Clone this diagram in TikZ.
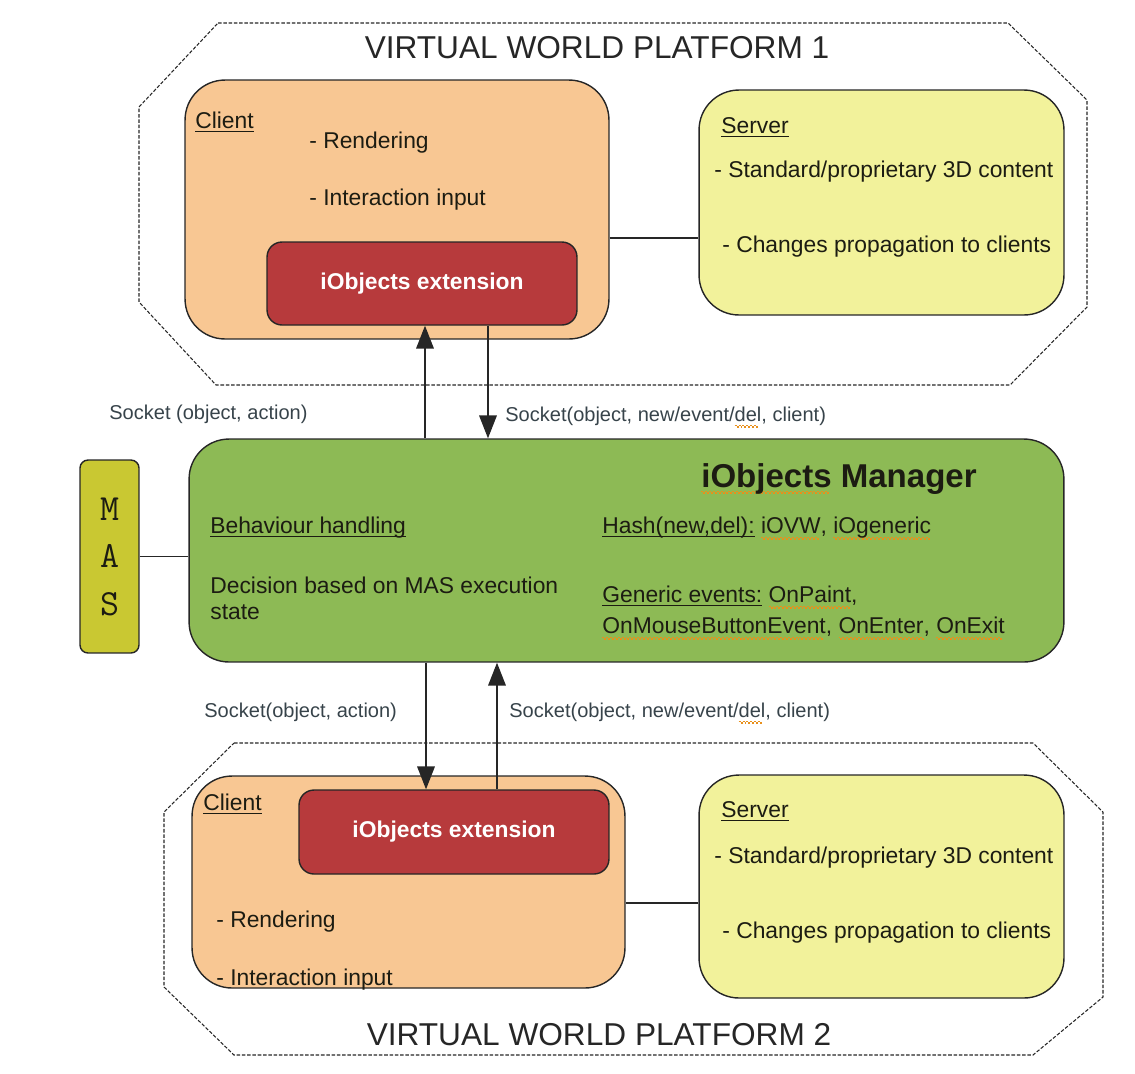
\documentclass[tikz,border=0pt]{standalone}
\usepackage{fontspec}
\setmainfont{Liberation Sans}
\usetikzlibrary{arrows.meta}

\definecolor{clientfill}{HTML}{F8C793}
\definecolor{extfill}{HTML}{B73A3C}
\definecolor{serverfill}{HTML}{F2F29B}
\definecolor{manfill}{HTML}{8DBA55}
\definecolor{masfill}{HTML}{C9C832}
\definecolor{textdark}{HTML}{1C1C12}
\definecolor{socktext}{HTML}{37434A}
\definecolor{spellline}{HTML}{E8901C}

% solid and wavy (spell-check) underlines
\newcommand\uln[1]{\setbox0\hbox{#1}\rlap{\rule[-2.2pt]{\wd0}{0.6pt}}\box0\relax}
\newcommand\spell[1]{\setbox0\hbox{#1}\rlap{\textcolor{spellline}{\hbox to\wd0{\leaders\hbox{\rule[-3.0pt]{1.1pt}{0.85pt}\rule[-3.7pt]{1.1pt}{0.85pt}}\hfill}}}\box0\relax}

\begin{document}
\begin{tikzpicture}[x=0.02cm,y=-0.02cm]
\tikzstyle{platform} = [draw=black!85, dash pattern=on 2pt off 1pt, line width=0.6pt]
\tikzstyle{box} = [draw=black!85, line width=0.8pt, inner sep=0pt]
\tikzstyle{clientbox} = [box, fill=clientfill, rounded corners=0.8cm]
\tikzstyle{serverbox} = [box, fill=serverfill, rounded corners=0.8cm]
\tikzstyle{extbox} = [box, fill=extfill, rounded corners=0.3cm, text=white, font=\bfseries\fontsize{13}{15}\selectfont]
\tikzstyle{manbox} = [box, fill=manfill, rounded corners=0.8cm]
\tikzstyle{masbox} = [box, fill=masfill, rounded corners=0.16cm, align=center, text=textdark, font=\ttfamily\fontsize{21}{27}\selectfont]
\tikzstyle{txt} = [anchor=base west, inner sep=0pt, text=textdark, font=\fontsize{13}{15}\selectfont]
\tikzstyle{socktxt} = [anchor=base west, inner sep=0pt, text=socktext, font=\fontsize{11.4}{13}\selectfont]
\tikzstyle{title} = [anchor=base, inner sep=0pt, text=black!85, font=\fontsize{18}{21}\selectfont]
\tikzstyle{link} = [draw=black!85, line width=0.8pt]
\tikzstyle{sockarrow} = [link, -{Triangle[length=13pt,width=10pt]}]
\useasboundingbox (0,0) rectangle (1135,1073);

% platform 1
\draw[platform] (218,23) -- (1008,23) -- (1087,100) -- (1087,307) -- (1010,385) -- (216,385) -- (139,302) -- (139,107) -- cycle;
\node[title] (vw1) at (597,58) {VIRTUAL WORLD PLATFORM 1};
\node[clientbox, minimum width=8.48cm, minimum height=5.18cm] (cl1) at (397,209.5) {};
\node[extbox, minimum width=6.2cm, minimum height=1.66cm] (ext1) at (422,283.5) {iObjects extension};
\node[serverbox, minimum width=7.3cm, minimum height=4.5cm] (srv1) at (881.5,202.5) {};
\node[txt] (cl1t) at (195,128) {\uln{Client}};
\node[txt] (cl1a) at (309,148) {- Rendering};
\node[txt] (cl1b) at (309,205) {- Interaction input};
\node[txt] (srv1t) at (721,133) {\uln{Server}};
\node[txt] (srv1a) at (714,177) {- Standard/proprietary 3D content};
\node[txt] (srv1b) at (722,252) {- Changes propagation to clients};
\coordinate (cs1) at ([yshift=-0.71cm]srv1.west);
\draw[link] (cs1 -| cl1.east) -- (cs1);

% platform 2
\draw[platform] (234,743) -- (1033,743) -- (1103,812) -- (1103,997) -- (1033,1055) -- (234,1055) -- (164,987) -- (164,812) -- cycle;
\node[title] (vw2) at (599,1045) {VIRTUAL WORLD PLATFORM 2};
\node[clientbox, minimum width=8.66cm, minimum height=4.24cm] (cl2) at (408.5,882) {};
\node[extbox, minimum width=6.2cm, minimum height=1.68cm] (ext2) at (454,832) {iObjects extension};
\node[serverbox, minimum width=7.3cm, minimum height=4.46cm] (srv2) at (881.5,886.5) {};
\node[txt] (cl2t) at (203,810) {\uln{Client}};
\node[txt] (cl2a) at (216,927) {- Rendering};
\node[txt] (cl2b) at (216,985) {- Interaction input};
\node[txt] (srv2t) at (721,817) {\uln{Server}};
\node[txt] (srv2a) at (714,863) {- Standard/proprietary 3D content};
\node[txt] (srv2b) at (722,938) {- Changes propagation to clients};
\coordinate (cs2) at ([yshift=-0.33cm]srv2.west);
\draw[link] (cs2 -| cl2.east) -- (cs2);

% manager and MAS
\node[manbox, minimum width=17.5cm, minimum height=4.46cm] (man) at (626.5,550.5) {};
\node[masbox, minimum width=1.18cm, minimum height=3.86cm] (mas) at (109.5,556.5) {M\\A\\S};
\draw[link] (mas.east) -- (mas.east -| man.west);
\node[anchor=base west, inner sep=0pt, text=textdark, font=\bfseries\fontsize{18.8}{22}\selectfont] (mant) at (701,487) {\spell{iObjects} Manager};
\node[txt] (beh) at (210,533) {\uln{Behaviour handling}};
\node[txt] (dec1) at (210,593) {Decision based on MAS execution};
\node[txt] (dec2) at (210,619) {state};
\node[txt] (hash) at (602,533) {\uln{Hash(new,del):} \spell{iOVW}, \spell{iOgeneric}};
\node[txt] (gen1) at (602,602) {\uln{Generic events:} \spell{OnPaint},};
\node[txt] (gen2) at (602,633) {\spell{OnMouseButtonEvent}, \spell{OnEnter}, \spell{OnExit}};

% sockets
\node[socktxt] (sk1) at (109,419) {Socket (object, action)};
\node[socktxt] (sk2) at (505,421) {Socket(object, new/event/\spell{del}, client)};
\node[socktxt] (sk3) at (204,717) {Socket(object, action)};
\node[socktxt] (sk4) at (509,717) {Socket(object, new/event/\spell{del}, client)};
\coordinate (up1) at ([xshift=0.06cm]ext1.south);
\coordinate (dn1) at ([xshift=1.32cm]ext1.south);
\coordinate (dn2) at ([xshift=-0.56cm]ext2.north);
\coordinate (up2) at ([xshift=0.86cm]ext2.north);
\draw[sockarrow] (up1 |- man.north) -- (up1);
\draw[sockarrow] (dn1) -- (dn1 |- man.north);
\draw[sockarrow] (dn2 |- man.south) -- (dn2);
\draw[sockarrow] (up2) -- (up2 |- man.south);
\end{tikzpicture}
\end{document}
